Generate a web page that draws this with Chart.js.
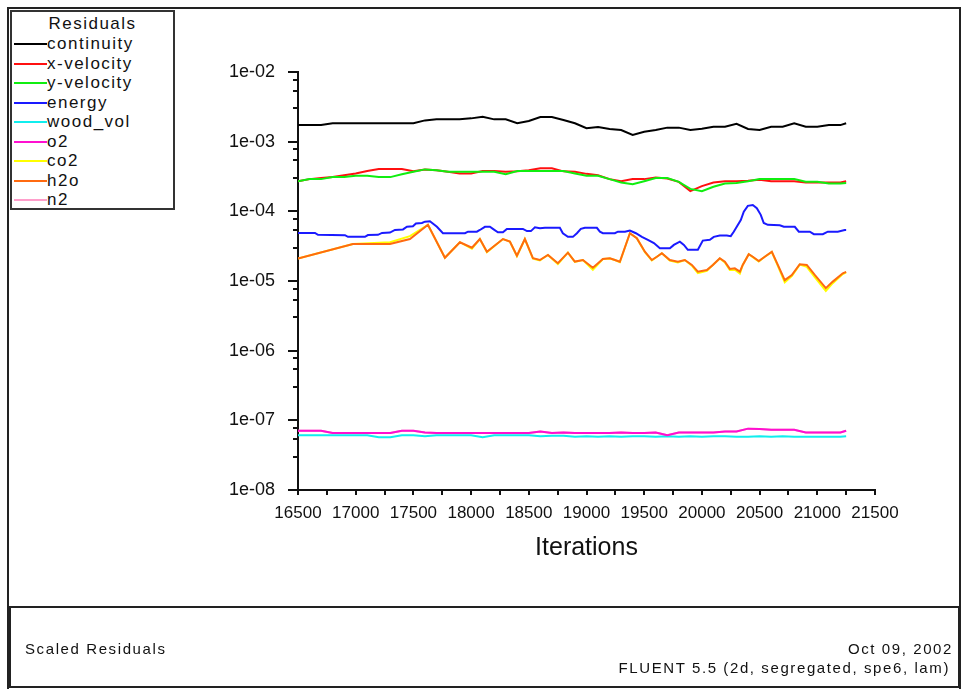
<!DOCTYPE html>
<html><head><meta charset="utf-8">
<script src="https://cdn.jsdelivr.net/npm/chart.js@4/dist/chart.umd.min.js"></script>
<style>
html,body{margin:0;padding:0;background:#fff;}
#wrap{position:relative;width:962px;height:689px;overflow:hidden;font-family:"Liberation Sans",Arial,sans-serif;color:#111;}
canvas{position:absolute;left:0;top:0;}
.frame{position:absolute;left:7px;top:7px;width:954px;height:682px;border:2px solid #222;border-bottom:none;box-sizing:border-box;}
#legend{position:absolute;left:10px;top:10px;width:165px;height:200px;border:2px solid #333;box-sizing:border-box;font-size:17px;letter-spacing:1.5px;background:#fff;}
.lt{position:absolute;left:0;width:100%;text-align:center;top:2px;line-height:20px;}
.row{position:absolute;left:0;height:20px;width:100%;}
.sw{position:absolute;left:2px;top:9px;width:33px;height:2px;}
.lbl{position:absolute;left:35px;top:0;white-space:nowrap;line-height:20px;}
#footer{position:absolute;left:9px;top:606px;width:951px;height:82px;border:2px solid #222;box-sizing:border-box;font-size:15px;letter-spacing:1.6px;}
#footer div{position:absolute;line-height:18px;white-space:nowrap;}
</style>
</head><body>
<div id="wrap">
<canvas id="c" width="962" height="689"></canvas>
<div class="frame"></div>
<div id="legend"><div class="lt">Residuals</div></div>
<div id="footer">
  <div style="left:14px;top:32px;">Scaled Residuals</div>
  <div style="right:5px;top:32px;">Oct 09, 2002</div>
  <div style="right:8px;top:51px;">FLUENT 5.5 (2d, segregated, spe6, lam)</div>
</div>
</div>
<script>
// ---------- DATA ----------
const seriesNames = ['continuity','x-velocity','y-velocity','energy','wood_vol','o2','co2','h2o','n2'];

const iterations = [16500,16600,16700,16800,16900,17000,17100,17200,17300,17400,17500,17600,17700,17800,17900,18000,18100,18200,18300,18400,18500,18600,18700,18800,18900,19000,19100,19200,19300,19400,19500,19600,19700,19800,19900,20000,20100,20200,20300,20400,20500,20600,20700,20800,20900,21000,21100,21200,21250];

const continuity = [1.73e-3,1.73e-3,1.73e-3,1.84e-3,1.84e-3,1.84e-3,1.84e-3,1.84e-3,1.84e-3,1.84e-3,1.84e-3,2.02e-3,2.09e-3,2.09e-3,2.09e-3,2.16e-3,2.28e-3,2.09e-3,2.09e-3,1.84e-3,1.98e-3,2.26e-3,2.26e-3,2.05e-3,1.84e-3,1.56e-3,1.62e-3,1.52e-3,1.47e-3,1.25e-3,1.39e-3,1.47e-3,1.59e-3,1.59e-3,1.47e-3,1.53e-3,1.64e-3,1.64e-3,1.80e-3,1.52e-3,1.47e-3,1.64e-3,1.64e-3,1.84e-3,1.64e-3,1.64e-3,1.73e-3,1.73e-3,1.84e-3];

const xVelocity = [2.7e-4,2.9e-4,3.0e-4,3.1e-4,3.3e-4,3.5e-4,3.8e-4,4.05e-4,4.05e-4,4.05e-4,3.75e-4,4.0e-4,3.9e-4,3.7e-4,3.5e-4,3.5e-4,3.8e-4,3.8e-4,3.7e-4,3.75e-4,3.9e-4,4.15e-4,4.15e-4,3.75e-4,3.7e-4,3.45e-4,3.3e-4,2.9e-4,2.7e-4,2.9e-4,2.9e-4,3.05e-4,2.95e-4,2.65e-4,1.95e-4,2.3e-4,2.6e-4,2.7e-4,2.7e-4,2.75e-4,2.85e-4,2.7e-4,2.7e-4,2.7e-4,2.6e-4,2.6e-4,2.6e-4,2.6e-4,2.7e-4];

const yVelocity = [2.7e-4,2.9e-4,2.9e-4,3.1e-4,3.1e-4,3.25e-4,3.25e-4,3.1e-4,3.1e-4,3.4e-4,3.7e-4,4.0e-4,3.9e-4,3.7e-4,3.7e-4,3.7e-4,3.7e-4,3.7e-4,3.4e-4,3.8e-4,3.8e-4,3.8e-4,3.8e-4,3.8e-4,3.5e-4,3.25e-4,3.25e-4,2.9e-4,2.6e-4,2.45e-4,2.7e-4,3.0e-4,3.0e-4,2.65e-4,2.1e-4,1.95e-4,2.25e-4,2.5e-4,2.55e-4,2.7e-4,2.9e-4,2.9e-4,2.9e-4,2.9e-4,2.65e-4,2.65e-4,2.5e-4,2.5e-4,2.55e-4];

const woodVol = [6.1e-8,6.1e-8,6.1e-8,6.1e-8,6.1e-8,6.1e-8,6.1e-8,5.7e-8,5.7e-8,6.1e-8,6.1e-8,5.9e-8,6.1e-8,6.1e-8,6.1e-8,6.1e-8,5.7e-8,6.1e-8,6.1e-8,6.1e-8,6.1e-8,5.9e-8,6.0e-8,6.0e-8,5.8e-8,5.9e-8,5.8e-8,5.9e-8,5.8e-8,5.9e-8,5.9e-8,5.8e-8,5.9e-8,5.8e-8,5.9e-8,5.8e-8,5.9e-8,5.9e-8,5.8e-8,5.8e-8,5.9e-8,5.8e-8,5.9e-8,5.8e-8,5.8e-8,5.8e-8,5.8e-8,5.8e-8,5.9e-8];

const o2 = [7.1e-8,7.1e-8,7.1e-8,6.6e-8,6.6e-8,6.6e-8,6.6e-8,6.6e-8,6.6e-8,7.1e-8,7.1e-8,6.7e-8,6.6e-8,6.6e-8,6.6e-8,6.6e-8,6.6e-8,6.6e-8,6.6e-8,6.6e-8,6.6e-8,6.9e-8,6.6e-8,6.7e-8,6.6e-8,6.6e-8,6.6e-8,6.6e-8,6.7e-8,6.6e-8,6.6e-8,6.7e-8,6.1e-8,6.7e-8,6.7e-8,6.7e-8,6.7e-8,6.9e-8,6.9e-8,7.6e-8,7.5e-8,7.3e-8,7.3e-8,7.3e-8,6.7e-8,6.7e-8,6.7e-8,6.7e-8,7.1e-8];

const n2 = [7.1e-8,7.1e-8,7.1e-8,6.6e-8,6.6e-8,6.6e-8,6.6e-8,6.6e-8,6.6e-8,7.1e-8,7.1e-8,6.7e-8,6.6e-8,6.6e-8,6.6e-8,6.6e-8,6.6e-8,6.6e-8,6.6e-8,6.6e-8,6.6e-8,6.9e-8,6.6e-8,6.7e-8,6.6e-8,6.6e-8,6.6e-8,6.6e-8,6.7e-8,6.6e-8,6.6e-8,6.7e-8,6.1e-8,6.7e-8,6.7e-8,6.7e-8,6.7e-8,6.9e-8,6.9e-8,7.6e-8,7.5e-8,7.3e-8,7.3e-8,7.3e-8,6.7e-8,6.7e-8,6.7e-8,6.7e-8,7.1e-8];

const energyIterations = [16500,16647,16673,16907,16933,17080,17106,17193,17228,17297,17340,17410,17444,17496,17522,17574,17600,17643,17704,17756,17947,17973,18050,18076,18120,18163,18189,18232,18276,18310,18449,18484,18518,18553,18596,18640,18769,18795,18839,18882,18917,18951,18986,19090,19116,19142,19246,19272,19333,19376,19428,19480,19532,19584,19636,19723,19757,19809,19844,19878,19965,20008,20069,20103,20155,20216,20250,20276,20302,20337,20363,20398,20441,20476,20510,20536,20571,20675,20710,20805,20840,20935,20970,21048,21091,21178,21238,21250];
const energy = [4.9e-5,4.9e-5,4.6e-5,4.55e-5,4.3e-5,4.3e-5,4.57e-5,4.6e-5,4.9e-5,4.95e-5,5.4e-5,5.5e-5,6.0e-5,6.1e-5,6.7e-5,6.8e-5,7.1e-5,7.2e-5,6.0e-5,4.85e-5,4.85e-5,5.1e-5,5.1e-5,5.4e-5,6.0e-5,6.0e-5,5.6e-5,5.0e-5,5.0e-5,5.6e-5,5.6e-5,5.2e-5,5.2e-5,5.9e-5,5.7e-5,5.8e-5,5.8e-5,4.85e-5,4.3e-5,4.3e-5,4.85e-5,5.6e-5,5.8e-5,5.8e-5,5.1e-5,4.85e-5,4.85e-5,5.1e-5,5.1e-5,5.3e-5,4.85e-5,4.3e-5,3.9e-5,3.5e-5,2.95e-5,2.95e-5,3.3e-5,3.67e-5,3.3e-5,2.8e-5,2.8e-5,3.8e-5,3.9e-5,4.3e-5,4.5e-5,4.5e-5,4.4e-5,5.1e-5,6.0e-5,7.5e-5,9.9e-5,1.2e-4,1.23e-4,1.11e-4,8.9e-5,6.8e-5,6.4e-5,6.3e-5,6.0e-5,6.0e-5,5.1e-5,5.1e-5,4.7e-5,4.7e-5,5.1e-5,5.1e-5,5.4e-5,5.4e-5];

const speciesIterations = [16500,16976,17297,17470,17626,17773,17903,18007,18076,18137,18276,18336,18397,18466,18536,18596,18666,18752,18839,18899,18969,19055,19142,19203,19246,19289,19376,19436,19506,19566,19610,19653,19722,19792,19852,19913,19965,20043,20095,20155,20199,20242,20285,20329,20354,20406,20441,20493,20545,20606,20658,20718,20779,20848,20909,20978,21074,21134,21221,21250];
const h2o = [2.1e-5,3.4e-5,3.4e-5,4.0e-5,6.4e-5,2.16e-5,3.6e-5,3.0e-5,4.0e-5,2.63e-5,4.0e-5,3.67e-5,2.31e-5,4.0e-5,2.12e-5,2.0e-5,2.36e-5,1.8e-5,2.55e-5,1.9e-5,2.0e-5,1.55e-5,2.07e-5,2.12e-5,2.0e-5,1.89e-5,4.84e-5,4.1e-5,2.63e-5,2.0e-5,2.23e-5,2.5e-5,2.0e-5,1.89e-5,2.0e-5,1.7e-5,1.36e-5,1.44e-5,1.7e-5,2.12e-5,1.89e-5,1.49e-5,1.52e-5,1.36e-5,1.7e-5,2.42e-5,2.23e-5,1.94e-5,2.23e-5,2.63e-5,1.7e-5,1.03e-5,1.22e-5,1.74e-5,1.7e-5,1.22e-5,7.9e-6,9.8e-6,1.29e-5,1.35e-5];
const co2 = [2.1e-5,3.4e-5,3.6e-5,4.4e-5,6.4e-5,2.16e-5,3.6e-5,2.9e-5,4.0e-5,2.6e-5,4.0e-5,3.67e-5,2.28e-5,4.0e-5,2.1e-5,1.97e-5,2.36e-5,1.75e-5,2.55e-5,1.88e-5,2.0e-5,1.45e-5,2.07e-5,2.1e-5,2.0e-5,1.86e-5,4.84e-5,4.1e-5,2.6e-5,1.97e-5,2.23e-5,2.5e-5,1.97e-5,1.85e-5,2.0e-5,1.66e-5,1.3e-5,1.4e-5,1.7e-5,2.1e-5,1.85e-5,1.44e-5,1.45e-5,1.28e-5,1.7e-5,2.42e-5,2.2e-5,1.9e-5,2.23e-5,2.6e-5,1.65e-5,0.96e-5,1.18e-5,1.72e-5,1.6e-5,1.14e-5,7.2e-6,9.3e-6,1.26e-5,1.33e-5];

const xTicks = [16500,16750,17000,17250,17500,17750,18000,18250,18500,18750,19000,19250,19500,19750,20000,20250,20500,20750,21000,21250,21500];
const yMajorTicks = [1e-8,1e-7,1e-6,1e-5,1e-4,1e-3,1e-2];
const yMinorTicks = [3.0e-8,5.4e-8,7.8e-8,3.0e-7,5.4e-7,7.8e-7,3.0e-6,5.4e-6,7.8e-6,3.0e-5,5.4e-5,7.8e-5,3.0e-4,5.4e-4,7.8e-4,3.0e-3,5.4e-3,7.8e-3];

// ---------- STYLE ----------
const seriesColors = ['#000000','#ff1010','#10ee10','#1a1aff','#10eeee','#ff10d0','#ffff00','#ff6a10','#ff9ecb'];
const FONT = '"Liberation Sans", Arial, sans-serif';

function pts(xs, ys){ return xs.map((x,i)=>({x:x, y:ys[i]})); }
function ds(idx, xs, ys, order){
  return {label: seriesNames[idx], data: pts(xs, ys), borderColor: seriesColors[idx], backgroundColor: seriesColors[idx],
    borderWidth: 2, pointRadius: 0, tension: 0, fill: false, order: order};
}

const datasets = [
  ds(0, iterations, continuity, 0),
  ds(1, iterations, xVelocity, 3),
  ds(2, iterations, yVelocity, 2),
  ds(3, energyIterations, energy, 1),
  ds(4, iterations, woodVol, 7),
  ds(5, iterations, o2, 6),
  ds(6, speciesIterations, co2, 5),
  ds(7, speciesIterations, h2o, 4),
  ds(8, iterations, n2, 8)
];

// HTML legend
const legend = document.getElementById('legend');
seriesNames.forEach((n,i)=>{
  const r = document.createElement('div'); r.className='row'; r.style.top = (22 + 19.5*i) + 'px';
  const sw = document.createElement('div'); sw.className='sw'; sw.style.background = seriesColors[i];
  const lb = document.createElement('div'); lb.className='lbl'; lb.textContent = n;
  r.appendChild(sw); r.appendChild(lb); legend.appendChild(r);
});

const minorTickPlugin = {
  id: 'minorTicks',
  afterDraw(chart){
    const s = chart.scales.y, ctx = chart.ctx;
    ctx.save(); ctx.strokeStyle = '#111'; ctx.lineWidth = 2;
    yMinorTicks.forEach(v=>{
      const p = Math.round(s.getPixelForValue(v));
      ctx.beginPath(); ctx.moveTo(s.right - 5, p); ctx.lineTo(s.right, p); ctx.stroke();
    });
    ctx.restore();
  }
};

new Chart(document.getElementById('c'), {
  type: 'line',
  data: { datasets: datasets },
  plugins: [minorTickPlugin],
  options: {
    responsive: false, animation: false, devicePixelRatio: 1,
    layout: { padding: { left: 218, top: 72, right: 87, bottom: 126 } },
    plugins: { legend: { display: false }, tooltip: { enabled: false } },
    scales: {
      x: {
        type: 'linear', min: 16500, max: 21500,
        afterFit(s){ s.height = 73; },
        afterBuildTicks(s){ s.ticks = xTicks.map(v=>({value: v})); },
        ticks: { autoSkip: false, maxRotation: 0, padding: 8, color: '#111',
          font: { family: FONT, size: 17 },
          callback: v => (v % 500 === 0 ? String(v) : '') },
        grid: { drawOnChartArea: false, drawTicks: true, tickLength: 5, color: '#111', lineWidth: 2 },
        border: { display: true, color: '#111', width: 2 },
        title: { display: true, text: 'Iterations', color: '#111', font: { family: FONT, size: 25 }, padding: { top: 0, bottom: 0 } }
      },
      y: {
        type: 'logarithmic', min: 1e-8, max: 1e-2,
        afterFit(s){ s.width = 80; },
        afterBuildTicks(s){ s.ticks = yMajorTicks.map(v=>({value: v, major: true})); },
        ticks: { autoSkip: false, padding: 13, color: '#111',
          font: { family: FONT, size: 18 },
          callback: v => { const e = Math.round(Math.log10(v)); return '1e-' + String(-e).padStart(2,'0'); } },
        grid: { drawOnChartArea: false, drawTicks: true, tickLength: 10, color: '#111', lineWidth: 2 },
        border: { display: true, color: '#111', width: 2 }
      }
    }
  }
});
</script>
</body></html>
